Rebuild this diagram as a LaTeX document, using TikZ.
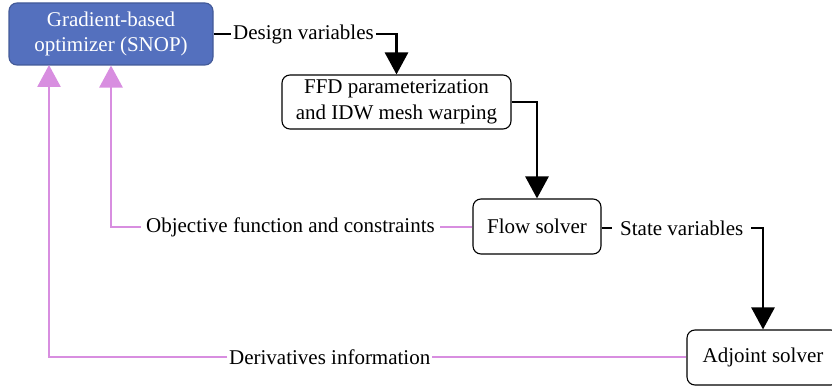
\documentclass[tikz,border=0pt]{standalone}
\usepackage{fontspec}
\setmainfont{Liberation Serif}
\usetikzlibrary{arrows.meta}
\definecolor{optblue}{RGB}{84,112,190}
\definecolor{pinkline}{RGB}{216,142,224}
\begin{document}
\begin{tikzpicture}[x=1pt,y=-1pt,
  box/.style={draw=black,line width=1.1pt,rounded corners=8pt,align=center,
    font=\fontsize{21}{25.5}\selectfont,inner sep=0pt},
  lbl/.style={font=\fontsize{21}{25}\selectfont,inner ysep=0pt},
  blk/.style={draw=black,line width=2.8pt},
  pnk/.style={draw=pinkline,line width=2.8pt},
  tip/.style={-{Triangle[width=23pt,length=22pt]}},
]
\useasboundingbox (0,0) rectangle (832,387);
% boxes
\node[box,fill=optblue,draw=optblue!80!black,text=white,minimum width=204pt,minimum height=62pt] (opt) at (111,34) {Gradient-based\\optimizer (SNOP)};
\node[box,fill=white,minimum width=229pt,minimum height=54pt] (ffd) at (396.5,102) {FFD parameterization\\and IDW mesh warping};
\node[box,fill=white,minimum width=128pt,minimum height=55pt] (flow) at (537,226.5) {Flow solver};
\node[box,fill=white,minimum width=152pt,minimum height=55pt] (adj) at (763,357.5) {Adjoint solver};
% labels
\node[lbl,anchor=west,inner xsep=2pt] (dv) at (231,34) {Design variables};
\node[lbl,anchor=west,inner xsep=8pt] (sv) at (612,228) {State variables};
\node[lbl,anchor=east,inner xsep=5pt] (obj) at (440,227) {Objective function and constraints};
\node[lbl,anchor=east,inner xsep=1.5pt] (der) at (432,357) {Derivatives information};
\coordinate (optl) at (49,65);
% black connectors
\draw[blk] (opt.east |- dv.west) -- (dv.west);
\draw[blk,tip] (dv.east) -| (ffd.north);
\draw[blk,tip] (ffd.east) -| (flow.north);
\draw[blk] (flow.east |- sv.west) -- (sv.west);
\draw[blk,tip] (sv.east) -| (adj.north);
% pink connectors
\draw[pnk] (flow.west |- obj.east) -- (obj.east);
\draw[pnk,tip] (obj.west) -| (opt.south);
\draw[pnk] (adj.west |- der.east) -- (der.east);
\draw[pnk,tip] (der.west) -| (optl);
\end{tikzpicture}
\end{document}
